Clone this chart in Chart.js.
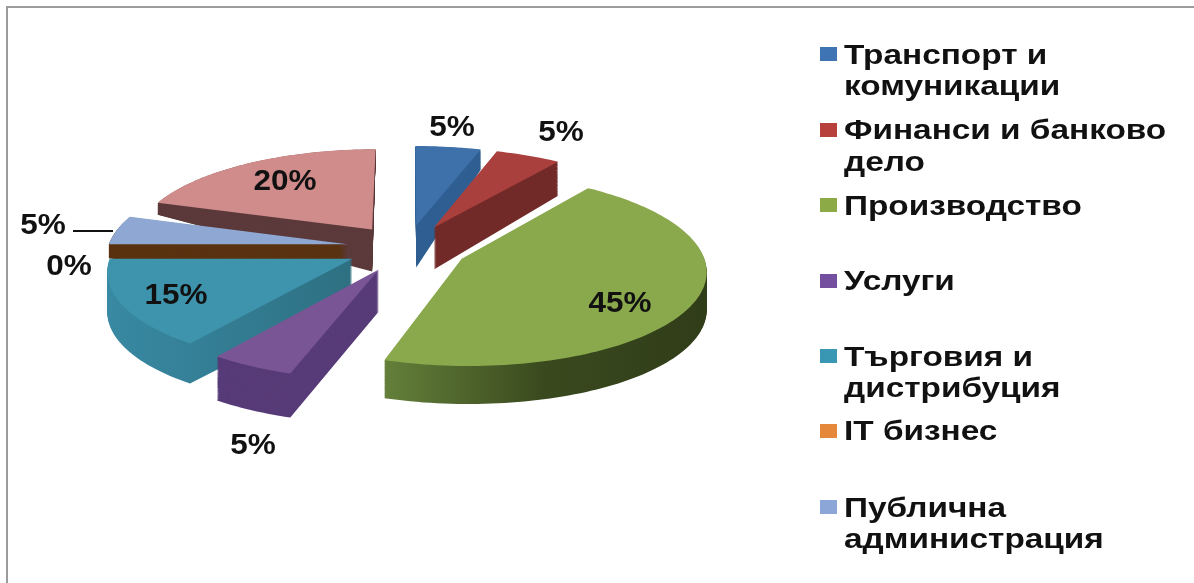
<!DOCTYPE html>
<html>
<head>
<meta charset="utf-8">
<script src="https://cdn.jsdelivr.net/npm/chart.js@4"></script>
<style>
  html, body { margin: 0; background: #fff; overflow: hidden; }
  #frame { position: absolute; left: 6px; top: 6px; right: -10px; bottom: -10px; border: 2px solid #9b9b9b; }
  canvas { position: absolute; left: 0; top: 0; }
</style>
</head>
<body>
<div id="frame"></div>
<canvas id="pie" width="1194" height="583"></canvas>
<script>
// the last slice has no readable legend entry in the picture
const categories = [
  ['Транспорт и', 'комуникации'],
  ['Финанси и банково', 'дело'],
  ['Производство'],
  ['Услуги'],
  ['Търговия и', 'дистрибуция'],
  ['IT бизнес'],
  ['Публична', 'администрация'],
  ['']
];
const values = [5, 5, 45, 5, 15, 0, 5, 20];

const topColors = ['#3e70a9', '#aa403d', '#8aa84c', '#7a5596', '#3f94ad', '#e58a3a', '#8ea8d3', '#cf8c8b'];
const legendColors = ['#3f74b4', '#b8403c', '#8cab47', '#744f9f', '#3a97b4', '#e5883a', '#8ca6d8'];
const wallColors = ['#2f5f92', '#722b29', ['#64803a', '#3a4a1e', '#303d19'], '#573b78', ['#3889a3', '#2e7082'], '#000', '#5a3312', '#5c3a3b'];
const rimDepth = [20, 34, 38, 44, 40, 0, 14, 12];
const drawOrder = [0, 1, 7, 6, 4, 3, 2];

// screen positions of the labels and legend rows
const pctSpots = [[452, 128], [561, 133], [620, 304], [253, 446], [176, 296], [69, 267], [43, 226], [285, 182]];
const legendBaselines = [[64, 95], [139, 171], [215], [290], [366, 397], [440], [517, 548]];
const swatchCenters = [54, 130, 205, 281, 356, 431, 507];

const EXPLODE = 62, TILT = 0.379, PERSP = 0.00045, WALL = 42, NARROW = 0.978;

function project(x, y, arc, t) {
  const mid = (arc.startAngle + arc.endAngle) / 2;
  const px = x - arc.x, py = y - arc.y;
  const dx = px + Math.cos(mid) * EXPLODE, dy = py + Math.sin(mid) * EXPLODE;
  const w = 1 - PERSP * dy;
  const along = Math.min(1, Math.hypot(px, py) / arc.outerRadius);
  const depth = WALL + (rimDepth[arc.$index] - WALL) * along;
  return { x: arc.x + NARROW * dx / w, y: arc.y + TILT * dy / w + t * depth };
}

// lets ArcElement.draw work on the real context while every point goes through project()
function tiltedContext(ctx, arc, t, fill) {
  return new Proxy(ctx, {
    get(c, key) {
      if (key === 'moveTo' || key === 'lineTo') {
        return (x, y) => { const p = project(x, y, arc, t); c[key](p.x, p.y); };
      }
      if (key === 'arc') {
        return (x, y, r, a0, a1) => {
          const n = Math.max(2, Math.ceil(Math.abs(a1 - a0) * 40));
          for (let i = 0; i <= n; i++) {
            const a = a0 + (a1 - a0) * i / n;
            const p = project(x + Math.cos(a) * r, y + Math.sin(a) * r, arc, t);
            c.lineTo(p.x, p.y);
          }
        };
      }
      const v = c[key];
      return typeof v === 'function' ? v.bind(c) : v;
    },
    set(c, key, v) {
      c[key] = (key === 'fillStyle' && fill) ? fill : v;
      return true;
    }
  });
}

function wallFill(ctx, i) {
  const w = wallColors[i];
  if (typeof w === 'string') return w;
  const g = i === 2 ? ctx.createLinearGradient(383, 0, 700, 0) : ctx.createLinearGradient(105, 0, 352, 0);
  w.forEach((c, k) => g.addColorStop(k / (w.length - 1), c));
  return g;
}

const pie3d = {
  id: 'pie3d',
  beforeDatasetsDraw(chart) {
    const ctx = chart.ctx;
    const arcs = chart.getDatasetMeta(0).data;
    arcs.forEach((a, i) => { a.$index = i; });
    drawOrder.forEach(i => {
      const fill = wallFill(ctx, i);
      for (let z = WALL; z > 0; z--) {
        arcs[i].draw(tiltedContext(ctx, arcs[i], z / WALL, fill));
      }
      arcs[i].draw(tiltedContext(ctx, arcs[i], 0));
    });
    return false;
  },
  afterDraw(chart) {
    const ctx = chart.ctx;
    ctx.save();
    ctx.filter = 'blur(0.6px)';
    ctx.fillStyle = '#111';
    ctx.textAlign = 'center';
    ctx.textBaseline = 'middle';
    ctx.font = 'bold 30px "Liberation Sans"';
    values.forEach((v, i) => {
      ctx.save();
      ctx.translate(pctSpots[i][0], pctSpots[i][1]);
      ctx.scale(1.05, 1);
      ctx.fillText(v + '%', 0, 0);
      ctx.restore();
    });
    // leader line of the small slice
    ctx.strokeStyle = '#111';
    ctx.lineWidth = 2;
    ctx.beginPath();
    ctx.moveTo(73, 231);
    ctx.lineTo(113, 231);
    ctx.stroke();

    ctx.textAlign = 'left';
    ctx.textBaseline = 'alphabetic';
    ctx.font = 'bold 27px "Liberation Sans"';
    legendBaselines.forEach((rows, i) => {
      ctx.fillStyle = legendColors[i];
      ctx.fillRect(820, swatchCenters[i] - 7, 17, 14);
      ctx.fillStyle = '#111';
      rows.forEach((y, k) => {
        ctx.save();
        ctx.translate(844, y);
        ctx.scale(1.235, 1);
        ctx.fillText(categories[i][k], 0, 0);
        ctx.restore();
      });
    });
    ctx.restore();
  }
};

new Chart(document.getElementById('pie'), {
  type: 'pie',
  data: {
    labels: categories.map(c => c.join(' ')),
    datasets: [{ data: values, backgroundColor: topColors, borderWidth: 0 }]
  },
  options: {
    responsive: false,
    animation: false,
    layout: { padding: { left: 162, right: 542, top: 3, bottom: 90 } },
    plugins: { legend: { display: false }, tooltip: { enabled: false } }
  },
  plugins: [pie3d]
});
</script>
</body>
</html>
